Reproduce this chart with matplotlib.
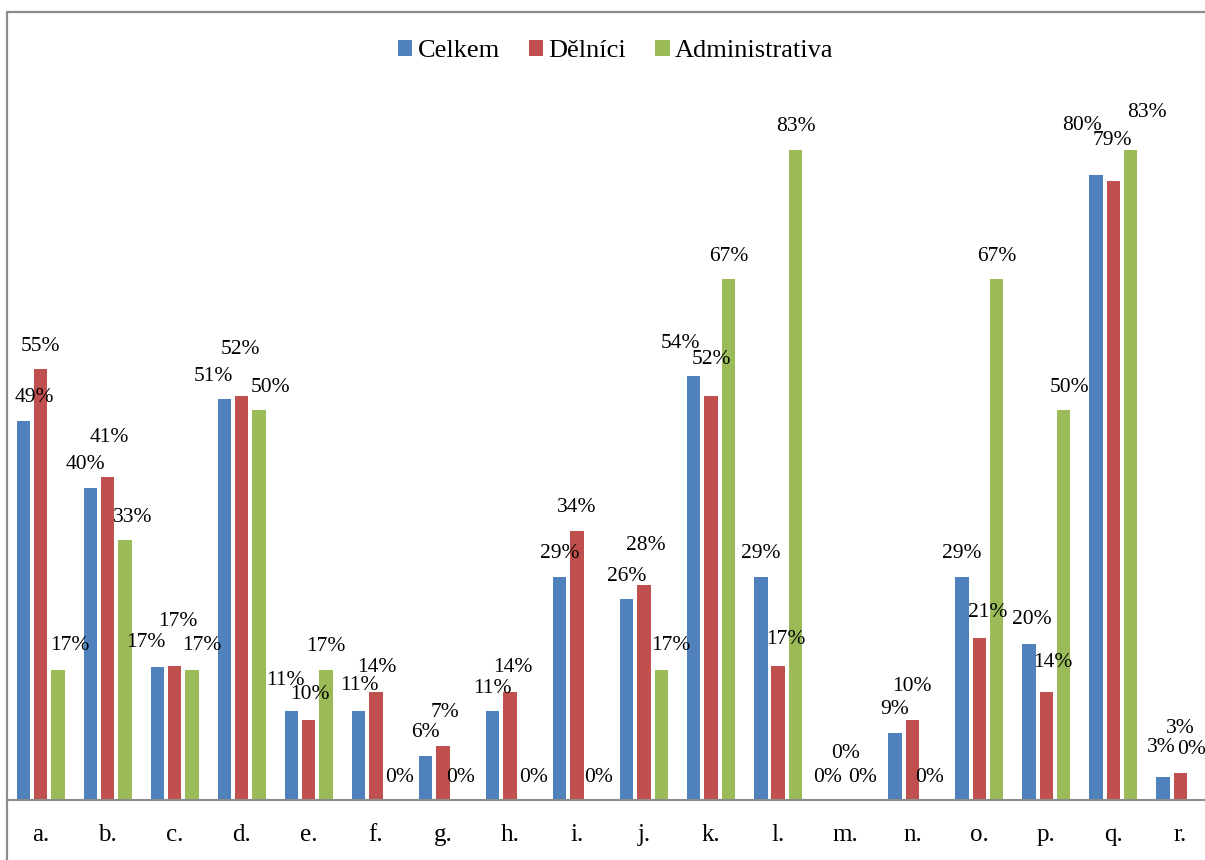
import numpy as np
import matplotlib.pyplot as plt
from matplotlib.patches import Rectangle

categories = ["a.", "b.", "c.", "d.", "e.", "f.", "g.", "h.", "i.",
              "j.", "k.", "l.", "m.", "n.", "o.", "p.", "q.", "r."]
celkem = [0.486, 0.400, 0.171, 0.514, 0.114, 0.114, 0.057, 0.114, 0.286,
          0.257, 0.543, 0.286, 0.0, 0.086, 0.286, 0.200, 0.800, 0.029]
delnici = [0.552, 0.414, 0.172, 0.517, 0.103, 0.138, 0.069, 0.138, 0.345,
           0.276, 0.517, 0.172, 0.0, 0.103, 0.207, 0.138, 0.793, 0.034]
administrativa = [0.167, 0.333, 0.167, 0.500, 0.167, 0.0, 0.0, 0.0, 0.0,
                  0.167, 0.667, 0.833, 0.0, 0.0, 0.667, 0.500, 0.833, 0.0]
series_names = ["Celkem", "Dělníci", "Administrativa"]
colors = ["#4F81BD", "#C0504D", "#9BBB59"]

# hand-placed data labels (pixel shift from the default spot above the bar)
label_shift = {
    ("a.", 0): (11, 23), ("a.", 2): (12, 24),
    ("b.", 0): (-5, 23), ("b.", 1): (2, 39), ("b.", 2): (8, 23),
    ("c.", 0): (-11, 24), ("c.", 1): (3, 44), ("c.", 2): (10, 24),
    ("d.", 0): (-11, 22), ("d.", 1): (-1, 47), ("d.", 2): (12, 22),
    ("e.", 0): (-6, 31), ("e.", 1): (1, 25),
    ("f.", 0): (1, 26), ("f.", 1): (1, 25), ("f.", 2): (6, 23),
    ("g.", 1): (2, 34),
    ("h.", 1): (3, 25), ("h.", 2): (6, 23),
    ("i.", 2): (4, 23),
    ("j.", 1): (2, 39), ("j.", 2): (10, 24),
    ("k.", 0): (-13, 33), ("k.", 1): (0, 37),
    ("l.", 1): (8, 26),
    ("m.", 1): (0, 46),
    ("n.", 1): (0, 33),
    ("o.", 1): (8, 26),
    ("p.", 0): (3, 24), ("p.", 1): (6, 30), ("p.", 2): (6, 22),
    ("q.", 0): (-14, 50), ("q.", 1): (-1, 40), ("q.", 2): (16, 37),
    ("r.", 0): (-2, 30), ("r.", 1): (0, 45), ("r.", 2): (-6, 50),
}

plt.rcParams['font.family'] = ['Liberation Serif', 'DejaVu Serif']

W, H = 1205, 860
PX = 72 / 100  # points per pixel at dpi 100
fig = plt.figure(figsize=(W / 100, H / 100), dpi=100)

# outer chart frame (cut off at right and bottom like the reference)
fig.patches.append(Rectangle((7 / W, -0.1), 1.2, 0.1 + (1 - 12 / H),
                             transform=fig.transFigure, fill=False,
                             edgecolor="#8c8c8c", linewidth=1.6))

ax = fig.add_axes([7 / W, 60 / H, 1207 / W, 0.9 * 780.7 / H])
ax.set_xlim(-0.5, len(categories) - 0.5)
ax.set_ylim(0, 0.9)

x = np.arange(len(categories))
pitch = 0.258
width = 0.2
for i, (vals, name, col) in enumerate(zip([celkem, delnici, administrativa],
                                           series_names, colors)):
    xs = x + (i - 1) * pitch
    ax.bar(xs, vals, width, color=col, label=name, edgecolor="none")
    for cat, xi, v in zip(categories, xs, vals):
        dx, dy = label_shift.get((cat, i), (0, 23))
        ax.annotate(f"{round(v * 100)}%", (xi, v), xytext=(dx * PX, dy * PX),
                    textcoords="offset points", ha="center", va="center",
                    fontsize=15.5, color="black")

for s in ["top", "right", "left"]:
    ax.spines[s].set_visible(False)
ax.spines["bottom"].set_color("#8c8c8c")
ax.spines["bottom"].set_linewidth(1.5)
ax.set_yticks([])
ax.set_xticks(x)
ax.set_xticklabels(categories, fontsize=18)
ax.tick_params(axis="x", length=0, pad=17)

fig.legend(loc="center", bbox_to_anchor=(0.511, 1 - 51 / H), ncol=3,
           frameon=False, fontsize=19, handlelength=0.55, handleheight=0.55,
           handletextpad=0.2, columnspacing=1.1)

fig.savefig("out.png", dpi=100)
